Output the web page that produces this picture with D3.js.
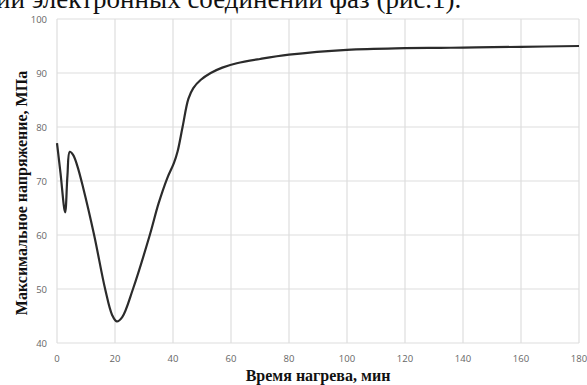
<!DOCTYPE html>
<html>
<head>
<meta charset="utf-8">
<script src="https://cdn.jsdelivr.net/npm/d3@7"></script>
<style>
body { margin: 0; background: #fff; }
</style>
</head>
<body>
<svg id="chart" width="587" height="385"></svg>
<script>
// time of heating, min
var times = [0, 1.2, 2.8, 3.6, 4.4, 5.6, 7, 9, 12.8, 16.6, 19, 20.6, 22.5, 26.2, 32, 35, 38, 40.3, 41.6, 43.3, 45.3, 47, 49.5, 53, 57, 62, 70, 80, 100, 120, 140, 160, 180];
// max stress, MPa
var stress = [77, 71.5, 64.2, 71, 75.4, 74.8, 72.8, 68.8, 60, 50, 45.2, 44, 44.8, 50, 60, 65.8, 70.5, 73.3, 75.5, 80, 85.2, 87.2, 88.7, 90, 91, 91.8, 92.6, 93.4, 94.3, 94.6, 94.7, 94.85, 95];

var xTicks = [0, 20, 40, 60, 80, 100, 120, 140, 160, 180];
var yTicks = [40, 50, 60, 70, 80, 90, 100];

var headText = "ии электронных соединений фаз (рис.1).";
var xTitle = "Время нагрева, мин";
var yTitle = "Максимальное напряжение, МПа";

var svg = d3.select("#chart");

var margin = { top: 19, right: 8, bottom: 42, left: 57 },
	width = 587 - margin.left - margin.right,
	height = 385 - margin.top - margin.bottom;

var x = d3.scaleLinear().domain([0, 180]).range([0, width]);
var y = d3.scaleLinear().domain([40, 100]).range([height, 0]);

// scanned page text cut at the top
svg.append("text")
	.attr("x", -4)
	.attr("y", 8)
	.attr("font-family", "'Liberation Serif', 'Times New Roman', serif")
	.attr("font-size", 27)
	.attr("fill", "#111")
	.text(headText);

var g = svg.append("g").attr("transform", "translate(" + margin.left + "," + margin.top + ")");

// grid
g.selectAll(".vgrid").data(xTicks).enter().append("line")
	.attr("x1", function(d) { return x(d); })
	.attr("x2", function(d) { return x(d); })
	.attr("y1", 0).attr("y2", height)
	.attr("stroke", "#dedede").attr("stroke-width", 1.2);

g.selectAll(".hgrid").data(yTicks).enter().append("line")
	.attr("x1", 0).attr("x2", width)
	.attr("y1", function(d) { return y(d); })
	.attr("y2", function(d) { return y(d); })
	.attr("stroke", "#dedede").attr("stroke-width", 1.2);

// tick labels
g.selectAll(".xlab").data(xTicks).enter().append("text")
	.attr("x", function(d) { return x(d); })
	.attr("y", height + 19)
	.attr("text-anchor", "middle")
	.attr("font-family", "'Open Sans', 'DejaVu Sans', sans-serif")
	.attr("font-size", 9.5)
	.attr("fill", "#666")
	.text(function(d) { return d; });

g.selectAll(".ylab").data(yTicks).enter().append("text")
	.attr("x", -10)
	.attr("y", function(d) { return y(d) + 3.5; })
	.attr("text-anchor", "end")
	.attr("font-family", "'Open Sans', 'DejaVu Sans', sans-serif")
	.attr("font-size", 9.5)
	.attr("fill", "#666")
	.text(function(d) { return d; });

// the curve
var pts = times.map(function(t, i) { return [t, stress[i]]; });
var line = d3.line()
	.x(function(d) { return x(d[0]); })
	.y(function(d) { return y(d[1]); })
	.curve(d3.curveCatmullRom.alpha(0.5));

g.append("path")
	.datum(pts)
	.attr("d", line)
	.attr("fill", "none")
	.attr("stroke", "#2b2b2b")
	.attr("stroke-width", 2.2)
	.attr("stroke-linejoin", "round");

// axis titles
svg.append("text")
	.attr("x", margin.left + width / 2)
	.attr("y", 381)
	.attr("text-anchor", "middle")
	.attr("font-family", "'Liberation Serif', 'Times New Roman', serif")
	.attr("font-weight", "bold")
	.attr("font-size", 16)
	.attr("fill", "#111")
	.text(xTitle);

svg.append("text")
	.attr("transform", "translate(27," + (margin.top + height / 2 + 12) + ") rotate(-90)")
	.attr("text-anchor", "middle")
	.attr("font-family", "'Liberation Serif', 'Times New Roman', serif")
	.attr("font-weight", "bold")
	.attr("font-size", 16)
	.attr("fill", "#111")
	.text(yTitle);
</script>
</body>
</html>
